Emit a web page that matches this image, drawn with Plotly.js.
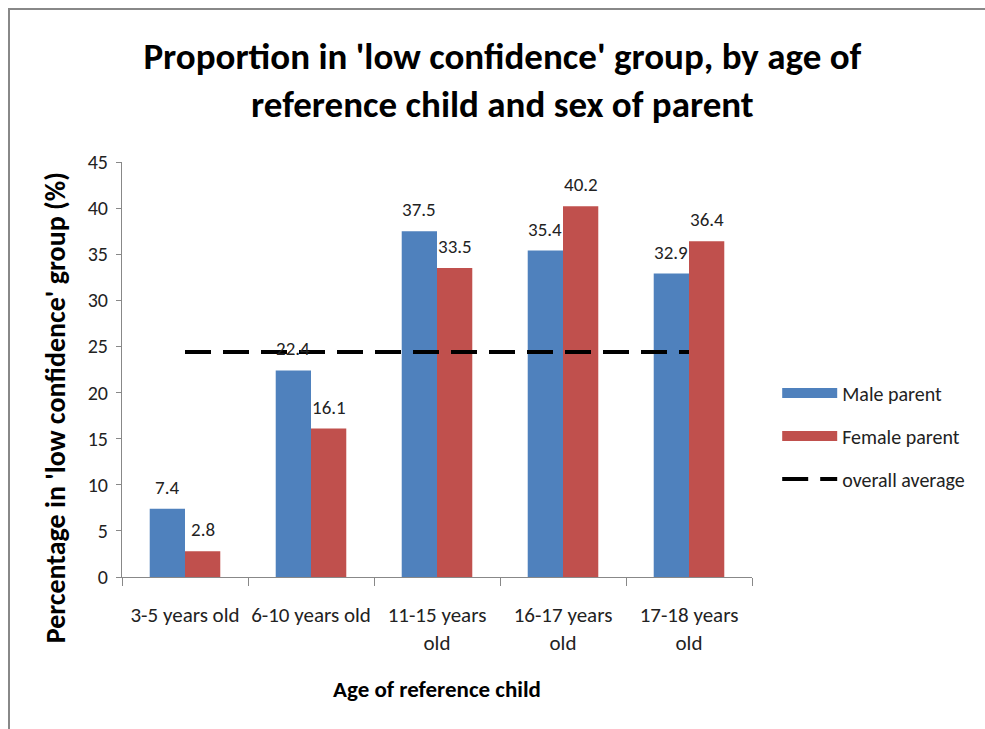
<!DOCTYPE html>
<html>
<head>
<meta charset="utf-8">
<script src="https://cdn.plot.ly/plotly-3.0.1.min.js"></script>
<style>
  html, body { margin: 0; padding: 0; background: #fff; }
  #wrap { position: relative; width: 985px; height: 729px; overflow: hidden; }
  #chart { position: absolute; left: 0; top: 0; width: 985px; height: 729px; }
  #frame { position: absolute; left: 8px; top: 8px; right: -4px; bottom: -4px;
           border-top: 2px solid #888; border-left: 2px solid #888; pointer-events: none; }
</style>
</head>
<body>
<div id="wrap">
  <div id="chart"></div>
  <div id="frame"></div>
</div>
<script>
const categories = ['3-5 years old', '6-10 years old', '11-15 years<br>old', '16-17 years<br>old', '17-18 years<br>old'];
const maleParent = [7.4, 22.4, 37.5, 35.4, 32.9];
const femaleParent = [2.8, 16.1, 33.5, 40.2, 36.4];
const overallAverage = 24.4;
const yTicks = [0, 5, 10, 15, 20, 25, 30, 35, 40, 45];

const FONT = "Carlito, 'Liberation Sans Narrow', 'Liberation Sans', Arial, sans-serif";
const BLUE = '#4F81BD', RED = '#C0504D';

const margin = { l: 122, r: 233, t: 162, b: 152 };
const bargap = 0.44;
const plotW = 985 - margin.l - margin.r;
const catW = plotW / categories.length;
const barW = catW * (1 - bargap) / 2;

const traces = [
  { type: 'bar', name: 'Male parent', x: categories, y: maleParent,
    marker: { color: BLUE }, showlegend: false },
  { type: 'bar', name: 'Female parent', x: categories, y: femaleParent,
    marker: { color: RED }, showlegend: false },
  { type: 'scatter', mode: 'lines', name: 'Male parent', x: [categories[0]], y: [null],
    line: { color: BLUE, width: 12 }, legendgroup: 'a', hoverinfo: 'skip' },
  { type: 'scatter', mode: 'lines', name: 'Female parent', x: [categories[0]], y: [null],
    line: { color: RED, width: 12 }, legendgroup: 'b', hoverinfo: 'skip' },
  { type: 'scatter', mode: 'lines', name: 'overall average',
    x: [categories[0], categories[categories.length - 1]],
    y: [overallAverage, overallAverage],
    line: { color: '#000', width: 4, dash: '26px,12px' },
    legendgroup: 'c' }
];

const annotations = [];
categories.forEach((c, i) => {
  [[maleParent, -1], [femaleParent, 1]].forEach(([arr, side]) => {
    annotations.push({
      x: c, y: arr[i], xref: 'x', yref: 'y',
      text: arr[i].toFixed(1), showarrow: false,
      xanchor: 'center', yanchor: 'bottom',
      xshift: side * barW / 2, yshift: 8,
      font: { family: FONT, size: 19, color: '#222' }
    });
  });
});
annotations.push({
  xref: 'paper', yref: 'paper', x: -0.106, y: 0.407,
  xanchor: 'center', yanchor: 'middle', textangle: -90, showarrow: false,
  text: "<b>Percentage in 'low confidence' group (%)</b>",
  font: { family: FONT, size: 28, color: '#000' }
});

const layout = {
  width: 985, height: 729,
  paper_bgcolor: '#fff', plot_bgcolor: '#fff',
  margin: margin,
  font: { family: FONT, size: 20, color: '#222' },
  title: {
    text: "<b>Proportion in 'low confidence' group, by age of<br>reference child and sex of parent</b>",
    font: { family: FONT, size: 37, color: '#000' },
    xref: 'container', x: 0.51, xanchor: 'center',
    yref: 'container', y: 0.906, yanchor: 'middle'
  },
  barmode: 'group', bargap: bargap, bargroupgap: 0,
  annotations: annotations,
  xaxis: {
    type: 'category',
    showline: true, linecolor: '#888', linewidth: 1,
    ticks: 'outside', tickson: 'boundaries', ticklen: 8, tickcolor: '#888',
    ticklabelstandoff: 19, tickangle: 0,
    tickfont: { family: FONT, size: 21, color: '#222' },
    showgrid: false, zeroline: false,
    title: { text: '<b>Age of reference child</b>', font: { family: FONT, size: 23, color: '#000' }, standoff: 26 }
  },
  yaxis: {
    range: [0, 45], tickvals: yTicks,
    showline: true, linecolor: '#888', linewidth: 1,
    ticks: 'outside', ticklen: 5, tickcolor: '#888',
    ticklabelstandoff: 4,
    tickfont: { family: FONT, size: 20, color: '#222' },
    showgrid: false, zeroline: false
  },
  legend: {
    x: 1.04, xanchor: 'left', y: 0.34, yanchor: 'middle',
    font: { family: FONT, size: 20, color: '#222' },
    traceorder: 'grouped', tracegroupgap: 14,
    itemwidth: 55, bgcolor: 'rgba(0,0,0,0)'
  },
  showlegend: true
};

Plotly.newPlot('chart', traces, layout, { staticPlot: true, displayModeBar: false });
</script>
</body>
</html>
